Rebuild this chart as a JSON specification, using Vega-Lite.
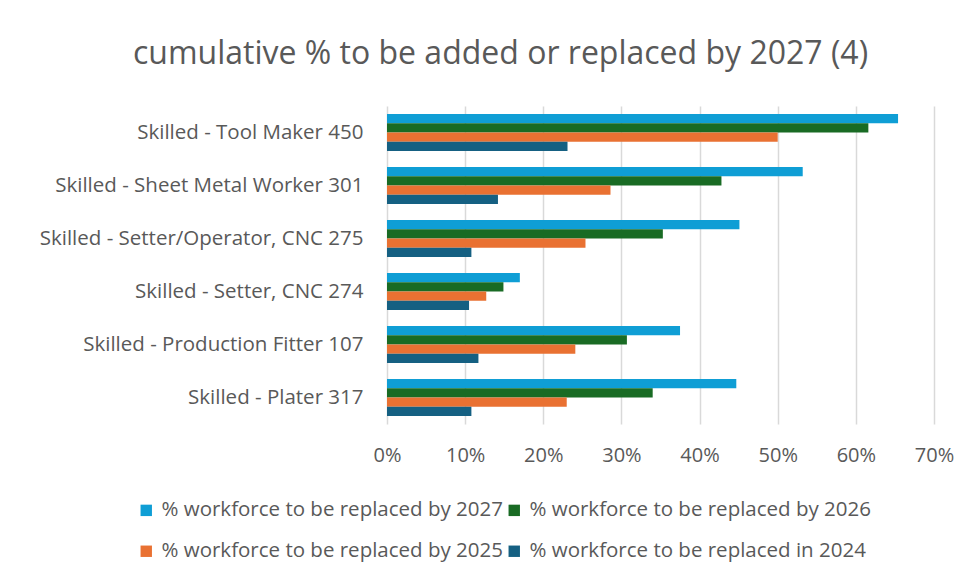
{
  "$schema": "https://vega.github.io/schema/vega-lite/v6.json",
  "width": 547,
  "height": 318,
  "autosize": {"type": "none"},
  "padding": {"left": 387, "top": 106, "right": 35, "bottom": 159},
  "background": "white",
  "title": {
    "text": "cumulative % to be added or replaced by 2027 (4)",
    "anchor": "middle",
    "frame": "group",
    "dx": -160,
    "offset": 35,
    "font": "Open Sans",
    "fontSize": 32,
    "fontWeight": "normal",
    "color": "#595959"
  },
  "data": {
    "values": [
      {"job": "Skilled - Tool Maker 450", "series": "% workforce to be replaced by 2027", "value": 0.654},
      {"job": "Skilled - Tool Maker 450", "series": "% workforce to be replaced by 2026", "value": 0.616},
      {"job": "Skilled - Tool Maker 450", "series": "% workforce to be replaced by 2025", "value": 0.500},
      {"job": "Skilled - Tool Maker 450", "series": "% workforce to be replaced in 2024", "value": 0.231},
      {"job": "Skilled - Sheet Metal Worker 301", "series": "% workforce to be replaced by 2027", "value": 0.532},
      {"job": "Skilled - Sheet Metal Worker 301", "series": "% workforce to be replaced by 2026", "value": 0.428},
      {"job": "Skilled - Sheet Metal Worker 301", "series": "% workforce to be replaced by 2025", "value": 0.286},
      {"job": "Skilled - Sheet Metal Worker 301", "series": "% workforce to be replaced in 2024", "value": 0.142},
      {"job": "Skilled - Setter/Operator, CNC 275", "series": "% workforce to be replaced by 2027", "value": 0.451},
      {"job": "Skilled - Setter/Operator, CNC 275", "series": "% workforce to be replaced by 2026", "value": 0.353},
      {"job": "Skilled - Setter/Operator, CNC 275", "series": "% workforce to be replaced by 2025", "value": 0.254},
      {"job": "Skilled - Setter/Operator, CNC 275", "series": "% workforce to be replaced in 2024", "value": 0.108},
      {"job": "Skilled - Setter, CNC 274", "series": "% workforce to be replaced by 2027", "value": 0.170},
      {"job": "Skilled - Setter, CNC 274", "series": "% workforce to be replaced by 2026", "value": 0.149},
      {"job": "Skilled - Setter, CNC 274", "series": "% workforce to be replaced by 2025", "value": 0.127},
      {"job": "Skilled - Setter, CNC 274", "series": "% workforce to be replaced in 2024", "value": 0.105},
      {"job": "Skilled - Production Fitter 107", "series": "% workforce to be replaced by 2027", "value": 0.375},
      {"job": "Skilled - Production Fitter 107", "series": "% workforce to be replaced by 2026", "value": 0.307},
      {"job": "Skilled - Production Fitter 107", "series": "% workforce to be replaced by 2025", "value": 0.241},
      {"job": "Skilled - Production Fitter 107", "series": "% workforce to be replaced in 2024", "value": 0.117},
      {"job": "Skilled - Plater 317", "series": "% workforce to be replaced by 2027", "value": 0.447},
      {"job": "Skilled - Plater 317", "series": "% workforce to be replaced by 2026", "value": 0.340},
      {"job": "Skilled - Plater 317", "series": "% workforce to be replaced by 2025", "value": 0.230},
      {"job": "Skilled - Plater 317", "series": "% workforce to be replaced in 2024", "value": 0.108}
    ]
  },
  "mark": {"type": "bar"},
  "encoding": {
    "y": {
      "field": "job",
      "type": "nominal",
      "sort": null,
      "title": null,
      "scale": {"paddingInner": 0.3, "paddingOuter": 0.15},
      "axis": {
        "domain": false,
        "ticks": false,
        "labelFont": "Open Sans",
        "labelFontSize": 20.5,
        "labelColor": "#595959",
        "labelPadding": 24,
        "labelLimit": 400
      }
    },
    "yOffset": {
      "field": "series",
      "type": "nominal",
      "sort": null
    },
    "x": {
      "field": "value",
      "type": "quantitative",
      "title": null,
      "scale": {"domain": [0, 0.7], "nice": false},
      "axis": {
        "format": ".0%",
        "values": [0, 0.1, 0.2, 0.3, 0.4, 0.5, 0.6, 0.7],
        "domain": false,
        "ticks": false,
        "grid": true,
        "gridColor": "#D9D9D9",
        "gridWidth": 1.5,
        "labelFlush": false,
        "labelOverlap": false,
        "labelFont": "Open Sans",
        "labelFontSize": 20,
        "labelColor": "#595959",
        "labelPadding": 21
      }
    },
    "color": {
      "field": "series",
      "type": "nominal",
      "sort": null,
      "scale": {
        "domain": [
          "% workforce to be replaced by 2027",
          "% workforce to be replaced by 2026",
          "% workforce to be replaced by 2025",
          "% workforce to be replaced in 2024"
        ],
        "range": ["#0F9ED5", "#196B24", "#E97132", "#156082"]
      },
      "legend": {
        "title": null,
        "orient": "none",
        "legendX": -251,
        "legendY": 394,
        "direction": "horizontal",
        "columns": 2,
        "symbolType": "square",
        "symbolSize": 130,
        "symbolStrokeWidth": 0,
        "labelFont": "Open Sans",
        "labelFontSize": 20.5,
        "labelColor": "#595959",
        "labelLimit": 450,
        "labelOffset": 5,
        "columnPadding": 1,
        "rowPadding": 20
      }
    }
  },
  "config": {
    "view": {"stroke": null}
  }
}
